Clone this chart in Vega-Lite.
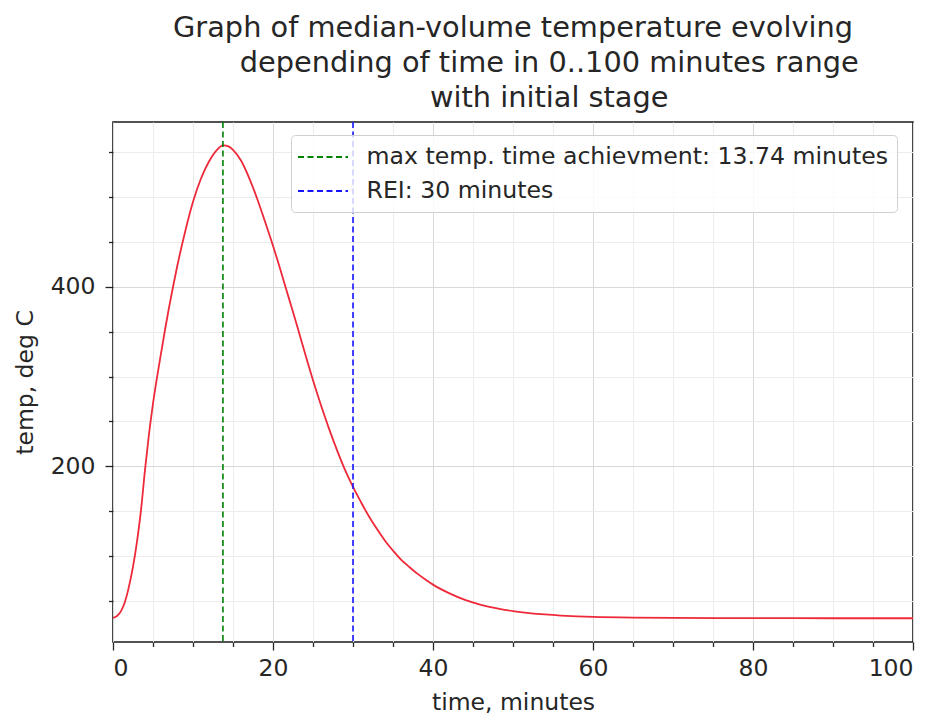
{
  "$schema": "https://vega.github.io/schema/vega-lite/v6.json",
  "autosize": {"type": "none"},
  "width": 800,
  "height": 520,
  "padding": {"left": 113, "top": 122, "right": 22, "bottom": 74},
  "background": "white",
  "title": {
    "text": ["Graph of median-volume temperature evolving", "\u2800\u2800\u2800 depending of time in 0..100 minutes range", "\u2800\u2800\u2800 with initial stage"],
    "anchor": "middle",
    "font": "DejaVu Sans",
    "fontSize": 28.8,
    "fontWeight": "normal",
    "lineHeight": 35,
    "color": "#262626",
    "offset": 8
  },
  "datasets": {
    "curve": [
      {"t": 0, "temp": 31}, {"t": 0.5, "temp": 33}, {"t": 1, "temp": 38.5}, {"t": 1.5, "temp": 49},
      {"t": 2, "temp": 66}, {"t": 2.5, "temp": 88}, {"t": 3, "temp": 116}, {"t": 3.5, "temp": 151},
      {"t": 4, "temp": 196}, {"t": 4.5, "temp": 236}, {"t": 5, "temp": 270}, {"t": 5.5, "temp": 299},
      {"t": 6, "temp": 326}, {"t": 6.5, "temp": 352}, {"t": 7, "temp": 377}, {"t": 7.5, "temp": 400},
      {"t": 8, "temp": 422}, {"t": 9, "temp": 461}, {"t": 10, "temp": 495}, {"t": 11, "temp": 521},
      {"t": 12, "temp": 540}, {"t": 13, "temp": 553}, {"t": 13.74, "temp": 558}, {"t": 14.5, "temp": 556.5},
      {"t": 15, "temp": 553}, {"t": 16, "temp": 541}, {"t": 17, "temp": 522}, {"t": 18, "temp": 499},
      {"t": 19, "temp": 473}, {"t": 20, "temp": 446}, {"t": 21, "temp": 417}, {"t": 22, "temp": 387},
      {"t": 23, "temp": 357}, {"t": 24, "temp": 326}, {"t": 25, "temp": 296}, {"t": 26, "temp": 268},
      {"t": 27, "temp": 242}, {"t": 28, "temp": 218}, {"t": 29, "temp": 196}, {"t": 30, "temp": 177},
      {"t": 31, "temp": 160}, {"t": 32, "temp": 144}, {"t": 33, "temp": 130}, {"t": 34, "temp": 117},
      {"t": 35, "temp": 106}, {"t": 36, "temp": 96}, {"t": 37, "temp": 88}, {"t": 38, "temp": 80.5},
      {"t": 39, "temp": 74}, {"t": 40, "temp": 68}, {"t": 42, "temp": 58.5}, {"t": 44, "temp": 51},
      {"t": 46, "temp": 45.5}, {"t": 48, "temp": 41.5}, {"t": 50, "temp": 38.5}, {"t": 52, "temp": 36.3},
      {"t": 54, "temp": 34.7}, {"t": 56, "temp": 33.5}, {"t": 58, "temp": 32.6}, {"t": 60, "temp": 32},
      {"t": 65, "temp": 31.2}, {"t": 70, "temp": 30.9}, {"t": 80, "temp": 30.6}, {"t": 90, "temp": 30.5},
      {"t": 100, "temp": 30.5}
    ],
    "markers": [
      {"t": 13.74, "label": "max temp. time achievment: 13.74 minutes"},
      {"t": 30, "label": "REI: 30 minutes"}
    ]
  },
  "config": {
    "view": {"stroke": "#1a1a1a", "strokeWidth": 1.6},
    "axis": {
      "labelFont": "DejaVu Sans",
      "labelFontSize": 23.5,
      "labelColor": "#262626",
      "titleFont": "DejaVu Sans",
      "titleFontSize": 23.5,
      "titleFontWeight": "normal",
      "titleColor": "#262626",
      "tickColor": "#262626",
      "tickWidth": 1.3,
      "domain": false
    },
    "legend": {
      "orient": "none",
      "legendX": 178,
      "legendY": 13,
      "symbolType": "M-2,0H2",
      "symbolSize": 625,
      "symbolOffset": 10,
      "symbolStrokeWidth": 1.8,
      "symbolDash": [6, 3.5],
      "labelFont": "DejaVu Sans",
      "labelFontSize": 23.6,
      "labelColor": "#262626",
      "labelLimit": 0,
      "labelOffset": 30,
      "padding": 8.5,
      "rowPadding": 8,
      "fillColor": "rgba(255,255,255,0.8)",
      "strokeColor": "#d0d0d0",
      "cornerRadius": 4
    }
  },
  "layer": [
    {
      "data": {"name": "curve"},
      "mark": {"type": "line", "strokeOpacity": 0},
      "encoding": {
        "x": {"field": "t", "type": "quantitative", "scale": {"domain": [0, 100], "nice": false, "zero": false},
          "axis": {"orient": "bottom", "values": [5, 10, 15, 25, 30, 35, 45, 50, 55, 65, 70, 75, 85, 90, 95], "labels": false, "tickSize": 4.5, "grid": true, "gridColor": "#ececec", "gridWidth": 1, "title": null}},
        "y": {"field": "temp", "type": "quantitative", "scale": {"domain": [4, 584], "nice": false, "zero": false},
          "axis": {"orient": "left", "values": [50, 100, 150, 250, 300, 350, 450, 500, 550], "labels": false, "tickSize": 4.5, "grid": true, "gridColor": "#ececec", "gridWidth": 1, "title": null}}
      }
    },
    {
      "data": {"name": "curve"},
      "mark": {"type": "line", "color": "#ee2a3a", "strokeWidth": 1.8, "interpolate": "monotone"},
      "encoding": {
        "x": {"field": "t", "type": "quantitative",
          "axis": {"orient": "bottom", "values": [0, 20, 40, 60, 80, 100], "tickSize": 8, "labelPadding": 6, "grid": true, "gridColor": "#d9d9d9", "gridWidth": 1, "title": "time, minutes", "titlePadding": 11}},
        "y": {"field": "temp", "type": "quantitative",
          "axis": {"orient": "left", "values": [200, 400], "tickSize": 8, "labelPadding": 10, "grid": true, "gridColor": "#d9d9d9", "gridWidth": 1, "title": "temp, deg C", "titlePadding": 13}}
      }
    },
    {
      "data": {"name": "markers"},
      "mark": {"type": "rule", "strokeWidth": 1.6, "strokeDash": [6, 3.5]},
      "encoding": {
        "x": {"field": "t", "type": "quantitative", "axis": null},
        "color": {"field": "label", "type": "nominal",
          "scale": {"domain": ["max temp. time achievment: 13.74 minutes", "REI: 30 minutes"], "range": ["#008000", "#1414ff"]},
          "legend": {"title": null}}
      }
    }
  ],
  "resolve": {"axis": {"x": "independent", "y": "independent"}}
}
